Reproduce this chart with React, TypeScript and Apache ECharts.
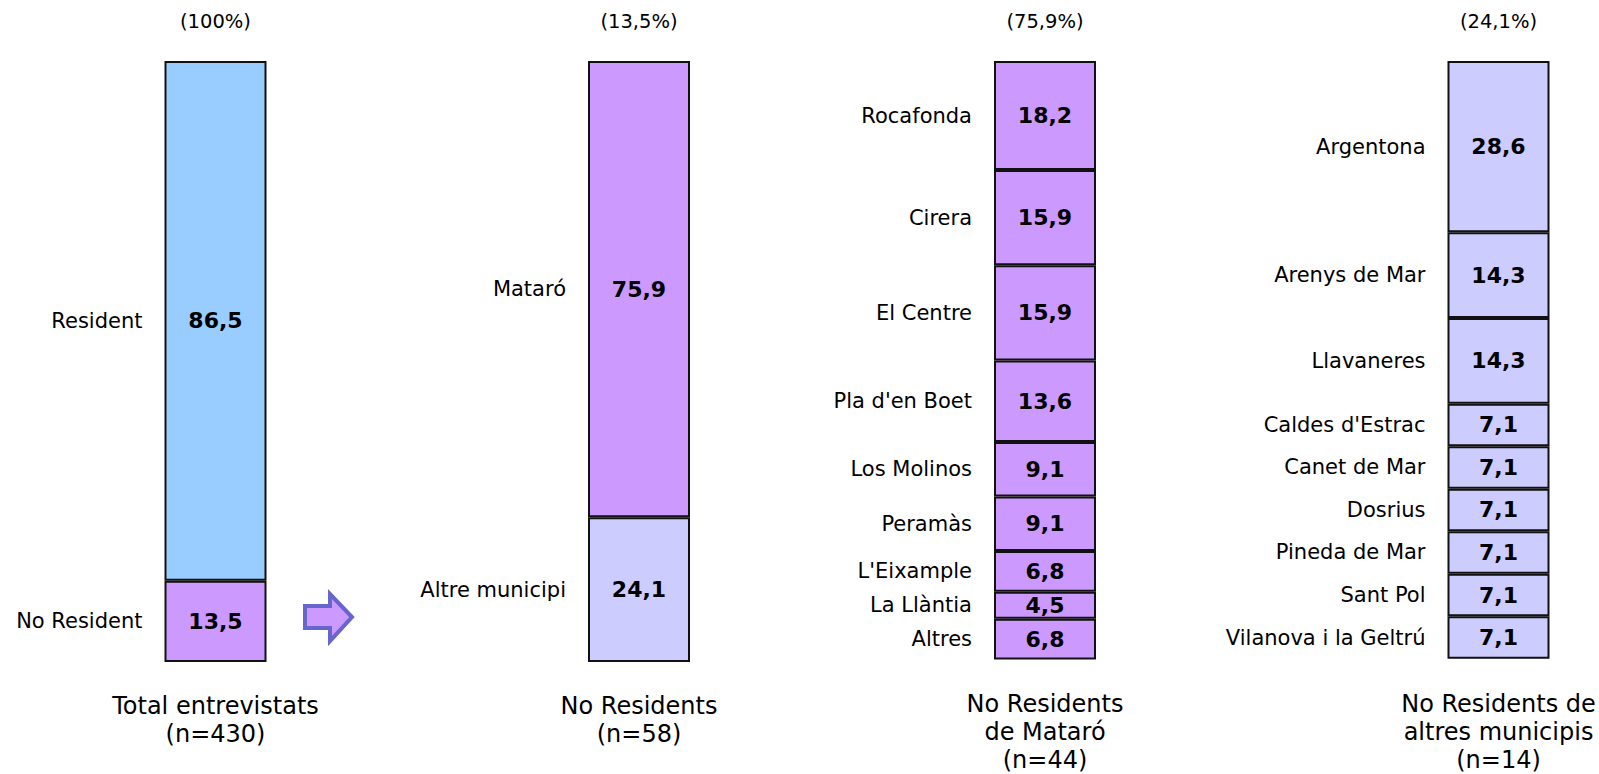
import React, { useEffect, useRef } from "react";
import * as echarts from "echarts";

// ---- Data ----
const TOTAL_CATEGORIES = ["Resident", "No Resident"];
const TOTAL_VALUES = [86.5, 13.5];

const NORES_CATEGORIES = ["Mataró", "Altre municipi"];
const NORES_VALUES = [75.9, 24.1];

const MATARO_CATEGORIES = [
  "Rocafonda",
  "Cirera",
  "El Centre",
  "Pla d'en Boet",
  "Los Molinos",
  "Peramàs",
  "L'Eixample",
  "La Llàntia",
  "Altres",
];
const MATARO_VALUES = [18.2, 15.9, 15.9, 13.6, 9.1, 9.1, 6.8, 4.5, 6.8];

const ALTRES_CATEGORIES = [
  "Argentona",
  "Arenys de Mar",
  "Llavaneres",
  "Caldes d'Estrac",
  "Canet de Mar",
  "Dosrius",
  "Pineda de Mar",
  "Sant Pol",
  "Vilanova i la Geltrú",
];
const ALTRES_VALUES = [28.6, 14.3, 14.3, 7.1, 7.1, 7.1, 7.1, 7.1, 7.1];

const COLUMN_TITLES = [
  "Total entrevistats\n(n=430)",
  "No Residents\n(n=58)",
  "No Residents\nde Mataró\n(n=44)",
  "No Residents de\naltres municipis\n(n=14)",
];
const COLUMN_SHARES = ["(100%)", "(13,5%)", "(75,9%)", "(24,1%)"];

// ---- Styles ----
const BLUE = "#99CCFF";
const PURPLE = "#CC99FF";
const LAVENDER = "#CCCCFF";
const FONT = "'DejaVu Sans', Verdana, sans-serif";
const CENTERS = [215.5, 639, 1045, 1498.5];
const GRID_TOP = 61;
const GRID_HEIGHT = 601;
const BAR_WIDTH = 102;

const fmt = (v: number) => String(v).replace(".", ",");

export default function App() {
  const ref = useRef<HTMLDivElement>(null);

  useEffect(() => {
    if (!ref.current) return;
    const chart = echarts.init(ref.current, undefined, { renderer: "svg" });

    const columns = [
      { cats: TOTAL_CATEGORIES, values: TOTAL_VALUES, colors: [BLUE, PURPLE] },
      { cats: NORES_CATEGORIES, values: NORES_VALUES, colors: [PURPLE, LAVENDER] },
      { cats: MATARO_CATEGORIES, values: MATARO_VALUES, colors: MATARO_CATEGORIES.map(() => PURPLE) },
      { cats: ALTRES_CATEGORIES, values: ALTRES_VALUES, colors: ALTRES_CATEGORIES.map(() => LAVENDER) },
    ];

    const grids: any[] = [];
    const xAxes: any[] = [];
    const yAxes: any[] = [];
    const series: any[] = [];

    columns.forEach((col, i) => {
      grids.push({ left: CENTERS[i] - 70, width: 140, top: GRID_TOP, height: GRID_HEIGHT });
      xAxes.push({
        type: "category",
        gridIndex: i,
        data: [COLUMN_TITLES[i]],
        axisLine: { show: false },
        axisTick: { show: false },
        splitLine: { show: false },
        axisLabel: {
          interval: 0,
          margin: 30,
          color: "#000",
          fontFamily: FONT,
          fontSize: 24,
          lineHeight: 28,
        },
      });
      yAxes.push({
        type: "value",
        gridIndex: i,
        min: 0,
        max: 100,
        inverse: true,
        show: false,
        splitLine: { show: false },
      });

      col.cats.forEach((cat, j) => {
        series.push({
          type: "bar",
          name: cat,
          xAxisIndex: i,
          yAxisIndex: i,
          stack: "seg" + i,
          barWidth: BAR_WIDTH,
          barGap: "-100%",
          data: [col.values[j]],
          itemStyle: { color: col.colors[j], borderColor: "#111", borderWidth: 2 },
          label: {
            show: true,
            position: "inside",
            formatter: () => fmt(col.values[j]),
            color: "#000",
            fontFamily: FONT,
            fontSize: 22,
            fontWeight: "bold",
          },
          emphasis: { disabled: true },
          silent: true,
        });
      });
      col.cats.forEach((cat, j) => {
        series.push({
          type: "bar",
          name: cat + " (nom)",
          xAxisIndex: i,
          yAxisIndex: i,
          stack: "name" + i,
          barWidth: BAR_WIDTH,
          barGap: "-100%",
          data: [col.values[j]],
          itemStyle: { color: "rgba(0,0,0,0)" },
          label: {
            show: true,
            position: "left",
            distance: 22,
            formatter: () => cat,
            color: "#000",
            fontFamily: FONT,
            fontSize: 21,
          },
          emphasis: { disabled: true },
          silent: true,
          z: 1,
        });
      });
    });

    const graphic: any[] = COLUMN_SHARES.map((s, i) => ({
      type: "text",
      x: CENTERS[i],
      y: 21,
      style: {
        text: s,
        align: "center",
        verticalAlign: "middle",
        fill: "#000",
        font: `19.5px ${FONT}`,
      },
    }));
    graphic.push({
      type: "polygon",
      shape: {
        points: [
          [305, 606],
          [330, 606],
          [330, 594],
          [352, 617],
          [330, 641],
          [330, 628],
          [305, 628],
        ],
      },
      style: { fill: PURPLE, stroke: "#6666CC", lineWidth: 4, lineJoin: "miter" },
    });

    chart.setOption({
      animation: false,
      backgroundColor: "#fff",
      grid: grids,
      xAxis: xAxes,
      yAxis: yAxes,
      series,
      graphic,
    });

    return () => chart.dispose();
  }, []);

  return (
    <div
      ref={ref}
      style={{ position: "fixed", left: 0, top: 0, width: 1599, height: 774 }}
    />
  );
}
